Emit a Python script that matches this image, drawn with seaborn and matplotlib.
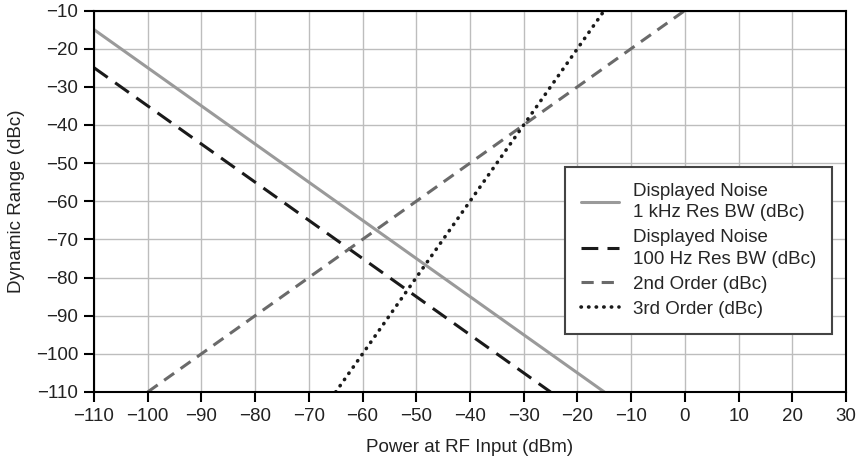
import numpy as np
import pandas as pd
import seaborn as sns
import matplotlib.pyplot as plt

# series end points (dBm in, dBc out)
noise_1k_x = [-110, -15]
noise_1k_y = [-15, -110]
noise_100_x = [-110, -25]
noise_100_y = [-25, -110]
second_x = [-100, 0]
second_y = [-110, -10]
third_x = [-65, -15]
third_y = [-110, -10]

labels = [
    "Displayed Noise\n1 kHz Res BW (dBc)",
    "Displayed Noise\n100 Hz Res BW (dBc)",
    "2nd Order (dBc)",
    "3rd Order (dBc)",
]
x_ticks = list(range(-110, 31, 10))
y_ticks = list(range(-110, -9, 10))

sns.set_style("white")
plt.rcParams["font.family"] = ["Liberation Sans", "DejaVu Sans"]
plt.rcParams["axes.unicode_minus"] = True
FS = 13.5

fig = plt.figure(figsize=(8.63, 4.61), dpi=100)
ax = fig.add_axes([0.1089, 0.1497, 0.8714, 0.8275])

series = [
    (noise_1k_x, noise_1k_y, labels[0], "#9a9a9a", "-", 2.2),
    (noise_100_x, noise_100_y, labels[1], "#1a1a1a", (0, (5.5, 3)), 2.2),
    (second_x, second_y, labels[2], "#6a6a6a", (0, (4, 2.6)), 2.2),
    (third_x, third_y, labels[3], "#1a1a1a", (0, (0.1, 2.0)), 2.6),
]
for xs, ys, lab, col, ls, lw in series:
    df = pd.DataFrame({"x": xs, "y": ys})
    sns.lineplot(data=df, x="x", y="y", ax=ax, color=col, linewidth=lw,
                 linestyle=ls, label=lab)
ax.lines[-1].set_dash_capstyle("round")

ax.set_xlim(-110, 30)
ax.set_ylim(-110, -10)
ax.set_xticks(x_ticks)
ax.set_yticks(y_ticks)
ax.grid(True, color="#bdbdbd", linewidth=1.0)
for s in ax.spines.values():
    s.set_color("black")
    s.set_linewidth(1.5)
ax.tick_params(axis="both", direction="out", length=7.5, width=1.5,
               labelsize=FS, colors="black", labelcolor="#222222",
               left=True, bottom=True, pad=4)
ax.set_xlabel("Power at RF Input (dBm)", fontsize=FS, color="#222222",
              labelpad=10)
ax.set_ylabel("Dynamic Range (dBc)", fontsize=FS, color="#222222",
              labelpad=8)

leg = ax.legend(loc="upper left", bbox_to_anchor=(0.627, 0.59),
                fontsize=FS, frameon=True, fancybox=False, shadow=False,
                handlelength=2.0, handletextpad=0.75, borderpad=0.85,
                labelspacing=0.42, borderaxespad=0)
for t in leg.get_texts():
    t.set_linespacing(1.35)
leg.get_frame().set_edgecolor("#444444")
leg.get_frame().set_linewidth(1.5)
leg.get_frame().set_alpha(1)

fig.savefig("out.png", dpi=100)
plt.close(fig)
